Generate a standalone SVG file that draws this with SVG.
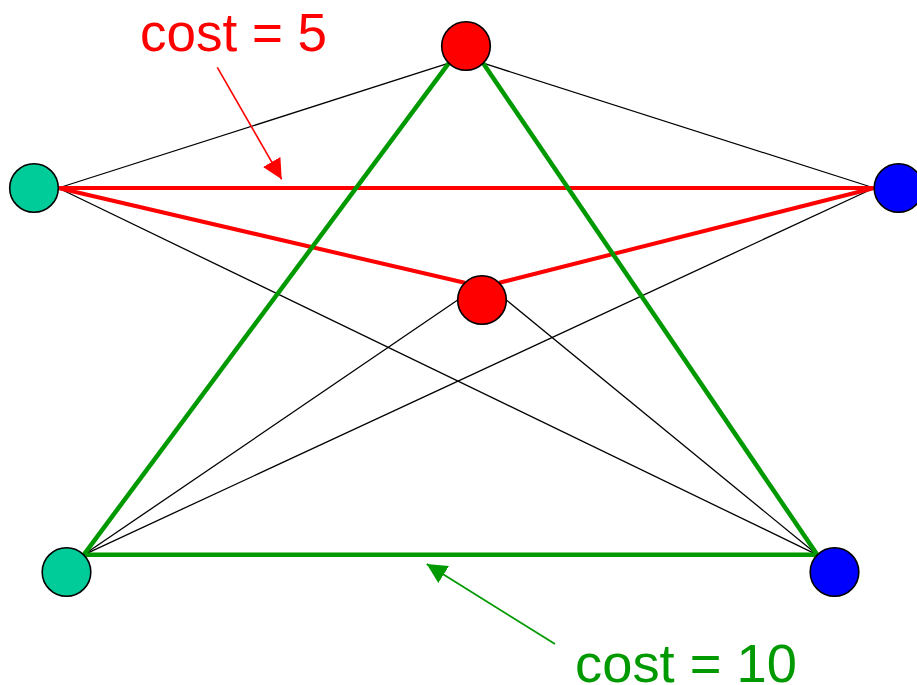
<svg xmlns="http://www.w3.org/2000/svg" width="917" height="685" viewBox="0 0 917 685">
<style>
.thin{stroke:#000;stroke-width:1.3;fill:none}
.red{stroke:#ff0000;stroke-width:4;fill:none}
.green{stroke:#009900;stroke-width:4.5;fill:none}
.node{stroke:#000;stroke-width:1.6}
.lbl{font-family:"Liberation Sans",Arial,sans-serif;font-size:54px}
</style>
<defs>
<marker id="ahR" viewBox="0 0 20 20" refX="20" refY="10" markerWidth="20" markerHeight="20" markerUnits="userSpaceOnUse" orient="auto"><path d="M0,0 L20,10 L0,20 z" fill="#ff0000"/></marker>
<marker id="ahG" viewBox="0 0 20 20" refX="20" refY="10" markerWidth="20" markerHeight="20" markerUnits="userSpaceOnUse" orient="auto"><path d="M0,0 L20,10 L0,20 z" fill="#009900"/></marker>
</defs>
<rect width="917" height="685" fill="#fff"/>
<g id="connectors">
<line class="thin" x1="448.8" y1="63.2" x2="58.3" y2="188"/>
<line class="thin" x1="483.2" y1="63.2" x2="874.2" y2="188"/>
<line class="thin" x1="58.3" y1="188" x2="817.3" y2="554.8"/>
<line class="thin" x1="874.2" y1="188" x2="83.7" y2="554.8"/>
<line class="thin" x1="457.7" y1="300" x2="83.7" y2="554.8"/>
<line class="thin" x1="506.3" y1="300" x2="817.3" y2="554.8"/>
<line class="red" x1="58.3" y1="188" x2="874.2" y2="188"/>
<line class="red" x1="58.3" y1="188" x2="464.8" y2="282.8"/>
<line class="red" x1="499.2" y1="282.8" x2="874.2" y2="188"/>
<line class="green" x1="448.8" y1="63.2" x2="83.7" y2="554.8"/>
<line class="green" x1="483.2" y1="63.2" x2="817.3" y2="554.8"/>
<line class="green" x1="83.7" y1="554.8" x2="817.3" y2="554.8"/>
<line stroke="#ff0000" stroke-width="1.6" x1="217.3" y1="67.3" x2="281.7" y2="179.3" marker-end="url(#ahR)"/>
<line stroke="#009900" stroke-width="1.8" x1="555" y1="644" x2="426.7" y2="564" marker-end="url(#ahG)"/>
</g>
<g id="node-top"><circle class="node" cx="466" cy="46" r="24.3" fill="#ff0000"/></g>
<g id="node-left"><circle class="node" cx="34" cy="188" r="24.3" fill="#00cc99"/></g>
<g id="node-right"><circle class="node" cx="898.5" cy="188" r="24.3" fill="#0000ff"/></g>
<g id="node-center"><circle class="node" cx="482" cy="300" r="24.3" fill="#ff0000"/></g>
<g id="node-bottom-left"><circle class="node" cx="66.5" cy="572" r="24.3" fill="#00cc99"/></g>
<g id="node-bottom-right"><circle class="node" cx="834.5" cy="572" r="24.3" fill="#0000ff"/></g>
<text class="lbl" x="140" y="50.5" fill="#ff0000" textLength="187" lengthAdjust="spacingAndGlyphs">cost = 5</text>
<text class="lbl" x="575" y="681.5" fill="#009900" textLength="222" lengthAdjust="spacingAndGlyphs">cost = 10</text>
</svg>
